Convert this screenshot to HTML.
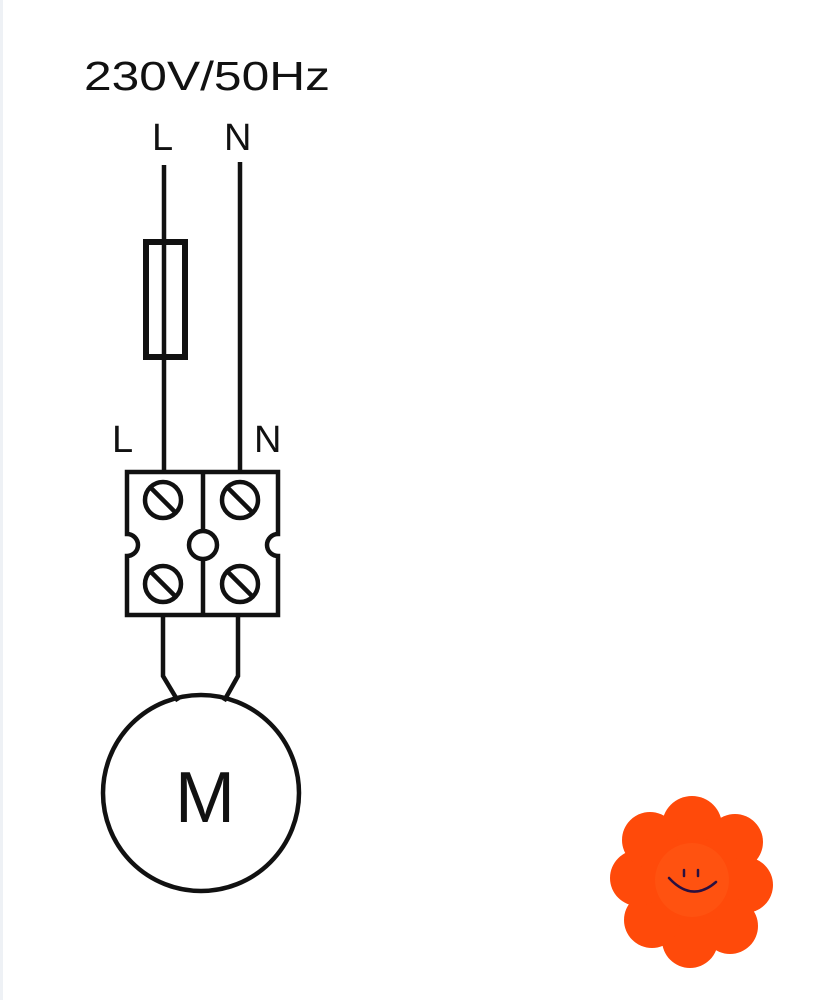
<!DOCTYPE html>
<html><head><style>
html,body{margin:0;padding:0;background:#fff;}
svg{display:block;}
</style></head><body>
<svg width="818" height="1000" viewBox="0 0 818 1000" xmlns="http://www.w3.org/2000/svg">
<rect x="0" y="0" width="3" height="1000" fill="#eef1f5"/>
<g font-family="Liberation Sans, sans-serif" fill="#111">
<text x="84" y="90" font-size="41" textLength="246" lengthAdjust="spacingAndGlyphs">230V/50Hz</text>
<text x="152" y="150" font-size="38">L</text>
<text x="224" y="150" font-size="38">N</text>
<text x="112" y="452" font-size="38">L</text>
<text x="254" y="452" font-size="38">N</text>
<text x="175" y="822" font-size="72">M</text>
</g>
<g stroke="#111" stroke-width="4.5" fill="none">
<line x1="164" y1="165" x2="164" y2="472"/>
<line x1="240" y1="162" x2="240" y2="472"/>
<rect x="146" y="242" width="39" height="115" stroke-width="6"/>
<path d="M127 472 H278 V534 A11 11 0 0 0 278 556 V615 H127 V556 A11 11 0 0 0 127 534 Z" fill="#fff"/>
<line x1="203" y1="472" x2="203" y2="531"/>
<line x1="203" y1="559" x2="203" y2="615"/>
<circle cx="203" cy="545" r="14"/>
<circle cx="163" cy="500" r="18"/><line x1="151" y1="488" x2="175" y2="512"/>
<circle cx="240" cy="500" r="18"/><line x1="228" y1="488" x2="252" y2="512"/>
<circle cx="163" cy="584" r="18"/><line x1="151" y1="572" x2="175" y2="596"/>
<circle cx="240" cy="584" r="18"/><line x1="228" y1="572" x2="252" y2="596"/>
<path d="M163 615 V676 L178 701"/>
<path d="M238 615 V676 L224 701"/>
<circle cx="201" cy="793" r="98"/>
</g>
<g fill="#ff4a0a">
<circle cx="692" cy="826" r="30"/><circle cx="735" cy="842" r="28"/>
<circle cx="745" cy="885" r="28"/><circle cx="730" cy="926" r="28"/>
<circle cx="690" cy="940" r="28"/><circle cx="652" cy="920" r="28"/>
<circle cx="638" cy="878" r="28"/><circle cx="650" cy="840" r="28"/>
<circle cx="692" cy="882" r="45"/>
<circle cx="692" cy="880" r="37" fill="#ff5210"/>
</g>
<g stroke="#2a1040" stroke-width="2.5" fill="none" stroke-linecap="round">
<path d="M669 878 Q692 903 716 882"/>
<line x1="684" y1="870" x2="684" y2="876"/>
<line x1="698" y1="870" x2="698" y2="876"/>
</g>
</svg>
</body></html>
